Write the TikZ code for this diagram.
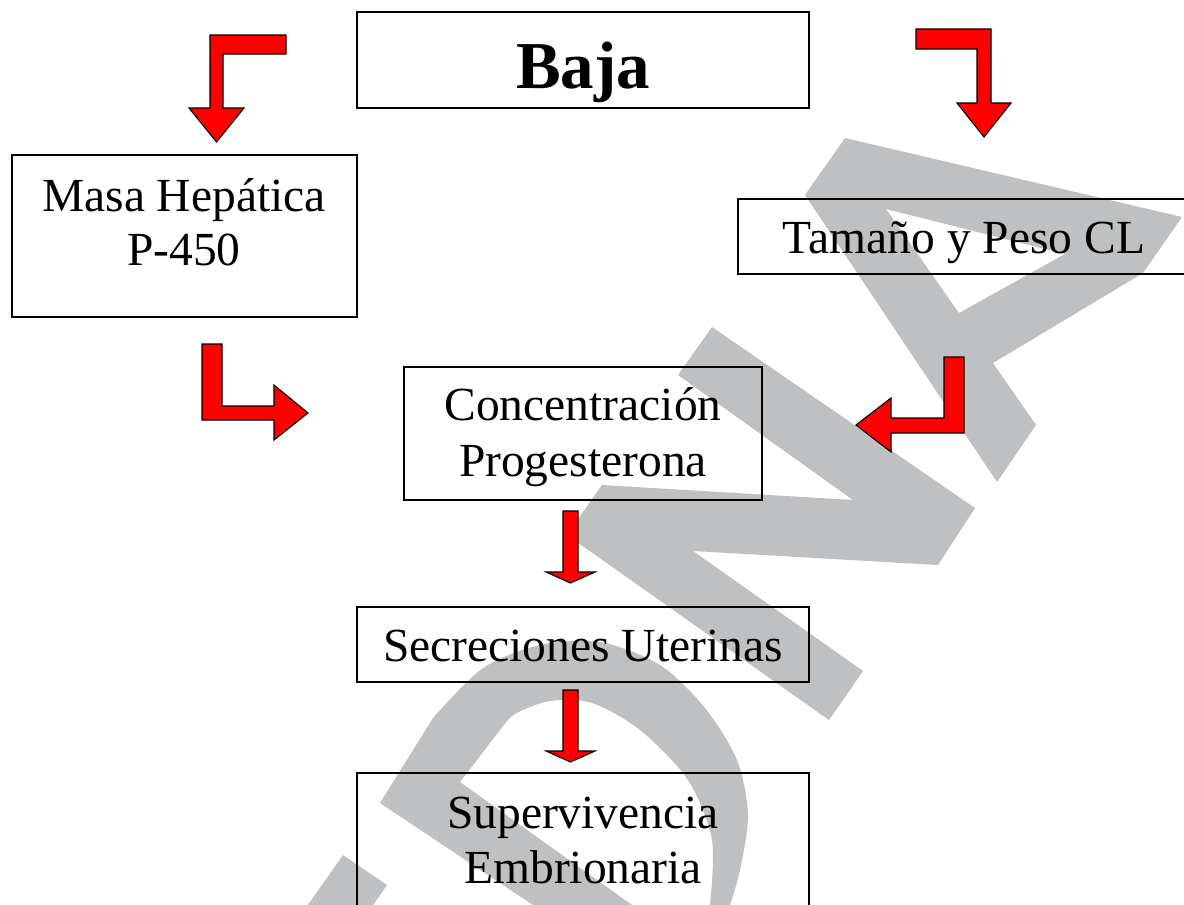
\documentclass[tikz,border=0pt]{standalone}
\usepackage{fontspec}
\setmainfont{Liberation Serif}
\definecolor{wmgrey}{RGB}{191,192,194}
\definecolor{arrred}{RGB}{255,0,0}
\begin{document}
\begin{tikzpicture}[x=1pt,y=-1pt,
  box/.style={draw=black,line width=1.3pt,inner sep=0pt,outer sep=0pt},
  lbl/.style={anchor=base,inner sep=0pt,font=\fontsize{47.5}{55}\selectfont},
  blockarrow/.style={fill=arrred,draw=black,line width=1.1pt,line join=miter},
  wm/.style={fill=wmgrey}]
\useasboundingbox (0,0) rectangle (1184,905);
\clip (0,0) rectangle (1184,905);
\fill[white] (0,0) rectangle (1184,905);

% watermark letters
\fill[wm] (343,855) -- (387,885) -- (373,905) -- (308,905) -- cycle;
\fill[wm] (380,803) -- plot[smooth] coordinates {(433,718) (483,668) (540,645) (600,642) (660,665) (705,708) (737,760) (748,815) (740,870) (730,905)}
  -- (710,905) -- plot[smooth] coordinates {(710,905) (712,840) (688,780) (640,730) (592,703) (550,701) (515,714) (500,730)}
  -- (460,782) -- (632,905) -- (533,905) -- cycle;
\fill[wm] (602,485) -- (853,500) -- (678,375) -- (712,327) -- (975,508) -- (938,565)
  -- (693,551) -- (863,671) -- (829,720) -- (567,535) -- cycle;
\fill[wm,even odd rule] (845,138) -- (1182,217) -- (1143,273) -- (993,363) -- (1036,425)
  -- (997,482) -- (805,195) -- cycle
  (886,209) -- (1065,254) -- (959,313) -- cycle;

% boxes
\node[box,minimum width=452,minimum height=96] (baja) at (583,60) {};
\node[box,minimum width=345,minimum height=162] (masa) at (184.5,236) {};
\node[box,minimum width=462,minimum height=75] (tam) at (969,236.5) {};
\node[box,minimum width=358,minimum height=133] (conc) at (583,433.5) {};
\node[box,minimum width=452,minimum height=75] (secr) at (583,644.5) {};
\node[box,minimum width=452,minimum height=187] (sup) at (583,866.5) {};

% texts
\node[anchor=base,inner sep=0pt,font=\bfseries\fontsize{67}{80}\selectfont] (tbaja) at (583,88) {Baja};
\node[lbl] (tmasa1) at (184,211) {Masa Hepática};
\node[lbl] (tmasa2) at (184,265) {P-450};
\node[lbl] (ttam) at (964,253) {Tamaño y Peso CL};
\node[lbl] (tconc1) at (583,420) {Concentración};
\node[lbl] (tconc2) at (583,476) {Progesterona};
\node[lbl] (tsecr) at (583,661) {Secreciones Uterinas};
\node[lbl] (tsup1) at (583,828) {Supervivencia};
\node[lbl] (tsup2) at (583,883) {Embrionaria};

% block arrows
\draw[blockarrow] (286,35) -- (210,35) -- (210,108) -- (189,108) -- (216.5,142) -- (244,108) -- (223,108) -- (223,54) -- (286,54) -- cycle;
\draw[blockarrow] (916,29) -- (991,29) -- (991,103) -- (1011,103) -- (984,137) -- (957,103) -- (977,103) -- (977,49) -- (916,49) -- cycle;
\draw[blockarrow] (202,344) -- (222,344) -- (222,406) -- (274,406) -- (274,385) -- (308,413) -- (274,440) -- (274,420) -- (202,420) -- cycle;
\draw[blockarrow] (964,357) -- (944,357) -- (944,418) -- (891,418) -- (891,398) -- (856,425) -- (891,452) -- (891,433) -- (964,433) -- cycle;
\draw[blockarrow] (563,511) -- (578,511) -- (578,572) -- (595,572) -- (570.5,583) -- (546,572) -- (563,572) -- cycle;
\draw[blockarrow] (563,690) -- (578,690) -- (578,751) -- (595,751) -- (570.5,762) -- (546,751) -- (563,751) -- cycle;
\end{tikzpicture}
\end{document}
